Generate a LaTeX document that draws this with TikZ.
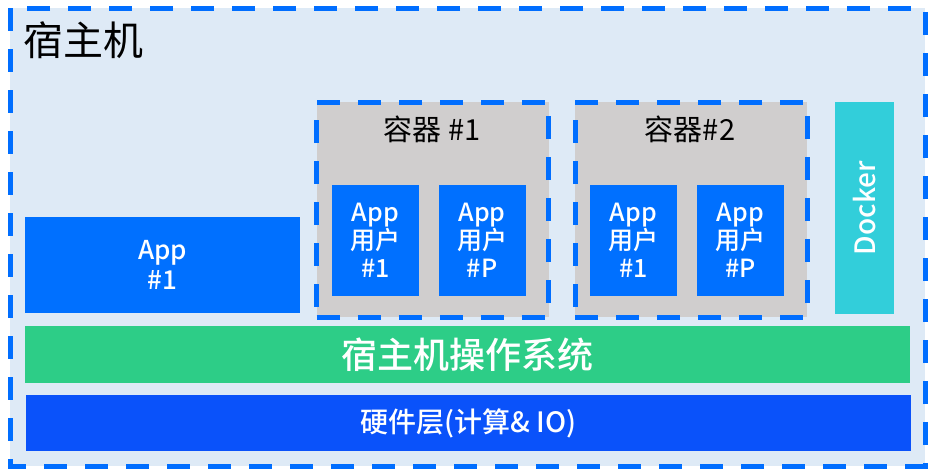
\documentclass[tikz,border=0pt]{standalone}
\usepackage{fontspec}
\setmainfont{Noto Sans CJK SC}
\newfontfamily\medfont{Noto Sans CJK SC Medium}
\definecolor{hostbg}{RGB}{222,234,246}
\definecolor{dashblue}{RGB}{0,110,255}
\definecolor{appblue}{RGB}{0,112,255}
\definecolor{ctgray}{RGB}{208,206,206}
\definecolor{dockcyan}{RGB}{50,206,218}
\definecolor{osgreen}{RGB}{45,205,135}
\definecolor{hwblue}{RGB}{10,82,250}
\tikzset{
	dashbox/.style={draw=dashblue, line width=5pt, dash pattern=on 23pt off 18pt},
	appbox/.style={fill=appblue, text=white, align=center, inner sep=0pt,
		font=\medfont\fontsize{25}{28}\selectfont},
	userbox/.style={appbox, minimum width=87pt, minimum height=111pt},
	ctbox/.style={dashbox, fill=ctgray, minimum width=232pt, minimum height=215pt, inner sep=0pt},
	layer/.style={text=white, inner sep=0pt, minimum width=885pt},
}
\begin{document}
\begin{tikzpicture}[x=1pt,y=-1pt]
	\useasboundingbox (0,0) rectangle (930,472);
	\fill[hostbg] (10,8) rectangle (925,466);
	\draw[dashbox] (10,8) rectangle (925,466);
	\node[anchor=west, font=\fontsize{40}{40}\selectfont] (host) at (20,40) {宿主机};
	% app directly on the host
	\node[appbox, minimum width=275pt, minimum height=96pt, font=\medfont\fontsize{26}{30}\selectfont] (app) at (162.5,265) {App\\\#1};
	% containers
	\node[ctbox] (ct1) at (432.5,209.5) {};
	\node[font=\fontsize{29}{29}\selectfont] (ct1t) at (432,129) {容器 \#1};
	\node[ctbox] (ct2) at (691,209.5) {};
	\node[font=\fontsize{29}{29}\selectfont] (ct2t) at (690,129) {容器\#2};
	\foreach \cx/\k/\lab in {375.5/a/1,482/b/P,633.5/c/1,740.5/d/P}
	{\node[userbox] (u\k) at (\cx,240.5) {App\\用户\\\#\lab};}
	\node[fill=dockcyan, text=white, rotate=90, minimum width=212pt, minimum height=59pt,
		inner sep=0pt, font=\medfont\fontsize{28}{28}\selectfont] (docker) at (864.5,208) {Docker};
	% layers
	\node[layer, fill=osgreen, minimum height=57pt, font=\medfont\fontsize{36}{36}\selectfont] (os) at (467.5,354.5) {宿主机操作系统};
	\node[layer, fill=hwblue, minimum height=56pt, font=\medfont\fontsize{28}{28}\selectfont] (hw) at (468.5,423) {硬件层(计算\& IO)};
\end{tikzpicture}
\end{document}
